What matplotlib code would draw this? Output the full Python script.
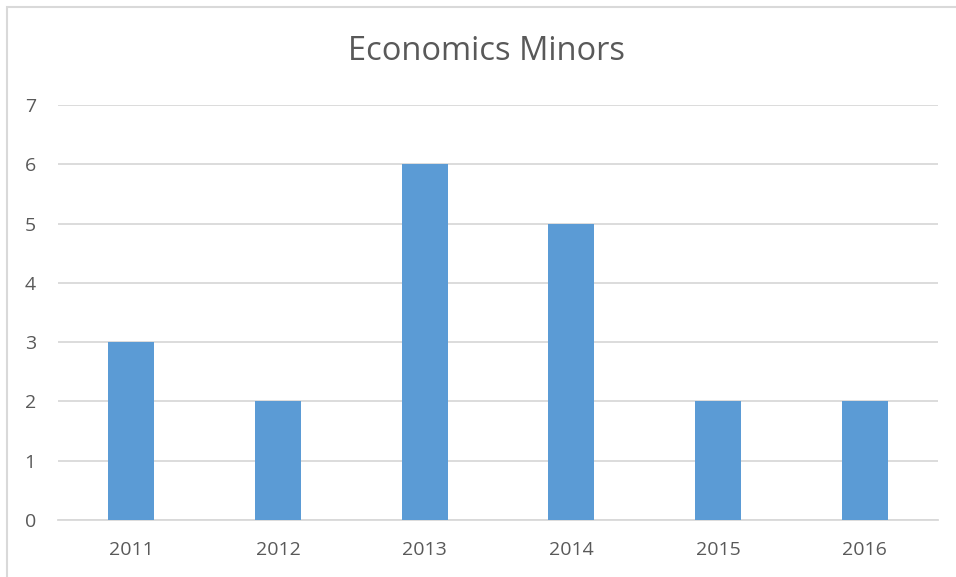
import matplotlib.pyplot as plt
from matplotlib.patches import Rectangle

years = ['2011', '2012', '2013', '2014', '2015', '2016']
minors = [3, 2, 6, 5, 2, 2]

plt.rcParams['font.family'] = ['Open Sans', 'DejaVu Sans']
text_color = '#595959'
grid_color = '#d9d9d9'

fig = plt.figure(figsize=(9.56, 5.77), dpi=100)
ax = fig.add_axes([58 / 956, 1 - 520 / 577, 880 / 956, 415 / 577])

x = range(len(years))
ax.bar(x, minors, width=0.315, color='#5b9bd5', zorder=3)

ax.set_xlim(-0.5, len(years) - 0.5)
ax.set_ylim(0, 7)
ax.set_yticks(range(0, 8))
ax.set_xticks(list(x))
ax.set_xticklabels(years)

ax.yaxis.grid(True, color=grid_color, linewidth=1.3, zorder=0)
for side in ['top', 'right', 'left']:
    ax.spines[side].set_visible(False)
ax.spines['bottom'].set_color(grid_color)
ax.spines['bottom'].set_linewidth(1.3)
ax.tick_params(axis='both', length=0, colors=text_color, labelsize=14)
ax.tick_params(axis='y', pad=16)
ax.tick_params(axis='x', pad=15)

fig.text(487 / 956, 1 - 51 / 577, 'Economics Minors', ha='center', va='center',
         fontsize=23.5, color=text_color)

# chart frame, runs off the right and bottom edges
fig.patches.append(Rectangle((6.5 / 956, -0.05), 1.1, 1 - 6.5 / 577 + 0.05,
                             transform=fig.transFigure, fill=False,
                             edgecolor=grid_color, linewidth=1.5))

fig.savefig('out.png', dpi=100)
